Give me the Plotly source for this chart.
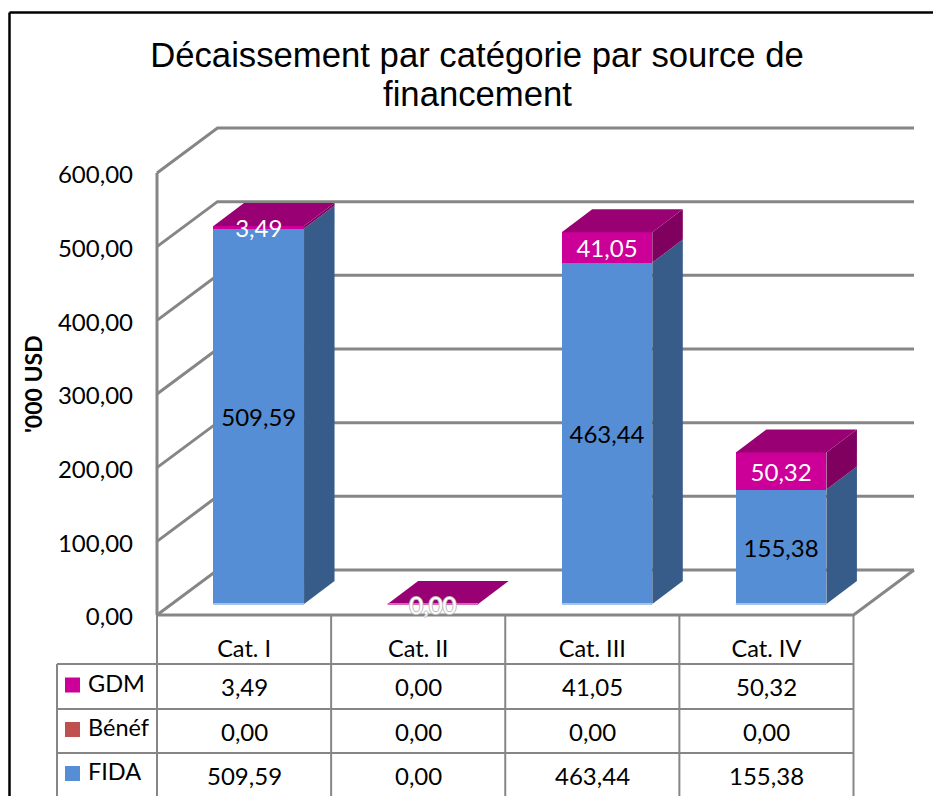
import plotly.graph_objects as go

# ---- data ----
categories = ["Cat. I", "Cat. II", "Cat. III", "Cat. IV"]
fida = [509.59, 0.00, 463.44, 155.38]
benef = [0.00, 0.00, 0.00, 0.00]
gdm = [3.49, 0.00, 41.05, 50.32]
y_ticks = [0, 100, 200, 300, 400, 500, 600]

# ---- layout constants (pixels of the 933x796 picture) ----
W, H = 933, 796
LEFT, RIGHT, Y0, Y600 = 157, 853.5, 615, 173
DOM_L, DOM_R, DOM_T, DOM_B = 150, 922, 120, 622
COL = (RIGHT - LEFT) / 4
PX_PER_UNIT = (Y0 - Y600) / 600
WALL_DX, WALL_DY = 60.5 / COL, 45 / PX_PER_UNIT
BAR_WIDTH = 0.52
BAR_SHIFT = 14.7 / COL
BAR_LIFT = (Y0 - 604) / PX_PER_UNIT
BAR_DX, BAR_DY = 30.5 / COL, 23 / PX_PER_UNIT
LABEL_DROP = 4 / PX_PER_UNIT
TICK_DROP = 2 / PX_PER_UNIT

GRID = "#868686"
FONT = "Lato"
BLUE, BLUE_SIDE, BLUE_EDGE = "#558ED5", "#375C8A", "#A6C4EA"
MAG, MAG_SIDE, MAG_TOP, MAG_EDGE = "#CC0099", "#80005F", "#990073", "#D966B8"
RED = "#C0504D"

xs = list(range(len(categories)))
fmt = lambda v: f"{v:.2f}".replace(".", ",")
px = lambda p: p / W
py = lambda p: 1 - p / H
x_lo, x_hi = -0.5 + (DOM_L - LEFT) / COL, -0.5 + (DOM_R - LEFT) / COL
y_lo, y_hi = (Y0 - DOM_B) / PX_PER_UNIT, (Y0 - DOM_T) / PX_PER_UNIT

fig = go.Figure()

# ---- walls, on the axes that carry the tick labels ----
wx, wy = [-0.5, -0.5, None], [0, 600, None]
for t in y_ticks:
    wx += [-0.5, -0.5 + WALL_DX, 3.5 + WALL_DX, None]
    wy += [t, t + WALL_DY, t + WALL_DY, None]
wx += [-0.5, 3.5, 3.5 + WALL_DX]
wy += [0, 0, WALL_DY]
fig.add_trace(go.Scatter(x=wx, y=[v + TICK_DROP if v is not None else None for v in wy], mode="lines",
                         hoverinfo="skip", line=dict(color=GRID, width=3), showlegend=False,
                         xaxis="x", yaxis="y"))

# ---- stacked bars, on a pair of axes shifted to mid depth ----
for name, vals, col in [("FIDA", fida, BLUE), ("Bénéf", benef, RED), ("GDM", gdm, MAG)]:
    fig.add_trace(go.Bar(x=xs, y=vals, name=name, width=BAR_WIDTH, marker=dict(color=col, line_width=0),
                         xaxis="x2", yaxis="y2", showlegend=False))


def face(pts, color):
    fig.add_trace(go.Scatter(x=[p[0] for p in pts], y=[p[1] for p in pts], mode="lines", fill="toself",
                             fillcolor=color, line=dict(width=0, color=color), hoverinfo="skip",
                             showlegend=False, xaxis="x2", yaxis="y2"))


for i in xs:
    l, r = i - BAR_WIDTH / 2, i + BAR_WIDTH / 2
    f, g = fida[i], gdm[i]
    total = f + benef[i] + g
    if f > 0:
        face([(r, 0), (r + BAR_DX, BAR_DY), (r + BAR_DX, f + BAR_DY), (r, f)], BLUE_SIDE)
    if g > 0:
        face([(r, f), (r + BAR_DX, f + BAR_DY), (r + BAR_DX, total + BAR_DY), (r, total)], MAG_SIDE)
    face([(l, total), (l + BAR_DX, total + BAR_DY), (r + BAR_DX, total + BAR_DY), (r, total)], MAG_TOP)
    fig.add_trace(go.Scatter(x=[l, r], y=[0, 0], mode="lines", hoverinfo="skip", showlegend=False,
                             line=dict(color=BLUE_EDGE if f > 0 else MAG_EDGE, width=2),
                             xaxis="x2", yaxis="y2"))

# ---- data labels ----
fig.add_trace(go.Scatter(x=xs, y=[f / 2 - LABEL_DROP for f in fida], mode="text", hoverinfo="skip", showlegend=False,
                         text=[fmt(v) if v > 0 else "" for v in fida], cliponaxis=False,
                         textfont=dict(family=FONT, size=24, color="#000000"), xaxis="x2", yaxis="y2"))
fig.add_trace(go.Scatter(x=xs, y=[f + g / 2 - LABEL_DROP for f, g in zip(fida, gdm)], mode="text", hoverinfo="skip",
                         showlegend=False, text=[fmt(v) if v > 0 else "" for v in gdm], cliponaxis=False,
                         textfont=dict(family=FONT, size=24, color="#FFFFFF"), xaxis="x2", yaxis="y2"))
zero_i = [i for i in xs if fida[i] + gdm[i] == 0]
fig.add_trace(go.Scatter(x=zero_i, y=[-LABEL_DROP for _ in zero_i], mode="text", hoverinfo="skip", showlegend=False,
                         text=[fmt(0) for _ in zero_i], cliponaxis=False, xaxis="x2", yaxis="y2",
                         textfont=dict(family=FONT, size=24, color="#FFFFFF",
                                       shadow="-1px 0 #BBB, 1px 0 #BBB, 0 -1px #BBB, 0 1px #BBB")))

# ---- data table under the plot ----
ROW_LINES = [664, 709, 753, 797]
COL_LINES = [LEFT + COL * i for i in range(5)]
LEG_LEFT = 57
shapes = []


def seg(x0, y0, x1, y1, color=GRID, width=2):
    shapes.append(dict(type="line", xref="paper", yref="paper", x0=px(x0), y0=py(y0), x1=px(x1), y1=py(y1),
                       line=dict(color=color, width=width), layer="below"))


for yy in ROW_LINES:
    seg(LEG_LEFT, yy, RIGHT, yy)
for xx in COL_LINES:
    seg(xx, Y0, xx, ROW_LINES[-1])
seg(LEG_LEFT, ROW_LINES[0], LEG_LEFT, ROW_LINES[-1])
# outer frame of the chart
seg(9.5, 12.5, W + 2, 12.5, "#000000", 2.5)
seg(9.5, 12.5, 9.5, H + 2, "#000000", 2.5)

annotations = [
    dict(xref="paper", yref="paper", x=px(477), y=py(94), xanchor="center", yanchor="middle",
         text="financement", showarrow=False, font=dict(family="Liberation Sans", size=34.7, color="#000000")),
    dict(xref="paper", yref="paper", x=px(33), y=py(384), xanchor="center", yanchor="middle", textangle=-90,
         text="<b>'000 USD</b>", showarrow=False, font=dict(family=FONT, size=23, color="#000000")),
]
for r, (name, vals, col) in enumerate([("GDM", gdm, MAG), ("Bénéf", benef, RED), ("FIDA", fida, BLUE)]):
    yc = (ROW_LINES[r] + ROW_LINES[r + 1]) / 2
    shapes.append(dict(type="rect", xref="paper", yref="paper", x0=px(65), x1=px(80),
                       y0=py(yc - 9), y1=py(yc + 6), fillcolor=col, line_width=0))
    annotations.append(dict(xref="paper", yref="paper", x=px(86), y=py(yc - 4), xanchor="left", yanchor="middle",
                            text=name, showarrow=False, font=dict(family=FONT, size=23.5, color="#000000")))
    for i in xs:
        annotations.append(dict(xref="paper", yref="paper", x=px(LEFT + COL * (i + 0.5)), y=py(yc),
                                xanchor="center", yanchor="middle", text=fmt(vals[i]), showarrow=False,
                                font=dict(family=FONT, size=24, color="#000000")))

fig.update_layout(
    width=W, height=H, margin=dict(l=0, r=0, t=0, b=0, pad=0, autoexpand=False),
    paper_bgcolor="#FFFFFF", plot_bgcolor="rgba(0,0,0,0)", barmode="stack", bargap=0,
    separators=", ", showlegend=False, shapes=shapes, annotations=annotations,
    title=dict(text="Décaissement par catégorie par source de", x=px(477), xanchor="center",
               y=py(55), yanchor="middle", font=dict(family="Liberation Sans", size=34.7, color="#000000")),
    xaxis=dict(domain=[px(DOM_L), px(DOM_R)], range=[x_lo, x_hi], tickvals=xs, ticktext=categories, showgrid=False,
               zeroline=False, showline=False, ticks="", ticklabelstandoff=10,
               tickfont=dict(family=FONT, size=23.5, color="#000000")),
    yaxis=dict(domain=[py(DOM_B), py(DOM_T)], range=[y_lo + TICK_DROP, y_hi + TICK_DROP], tickvals=y_ticks,
               tickformat=".2f", showgrid=False,
               zeroline=False, showline=False, ticks="", ticklabelstandoff=16,
               tickfont=dict(family=FONT, size=24, color="#000000")),
    xaxis2=dict(domain=[px(DOM_L), px(DOM_R)], range=[x_lo - BAR_SHIFT, x_hi - BAR_SHIFT], overlaying="x", visible=False),
    yaxis2=dict(domain=[py(DOM_B), py(DOM_T)], range=[y_lo - BAR_LIFT, y_hi - BAR_LIFT], overlaying="y", visible=False),
)

fig.write_html("out.html", config=dict(displayModeBar=False),
               post_script="document.body.style.margin='0';")
